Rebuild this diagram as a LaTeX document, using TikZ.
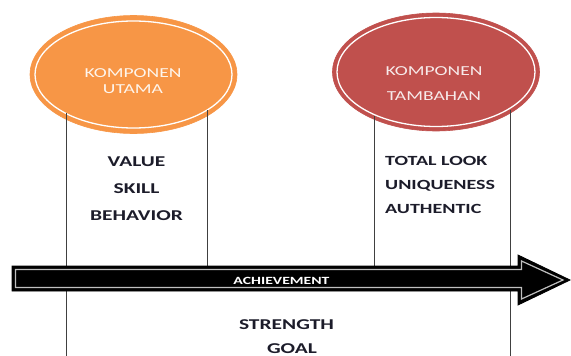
\documentclass[tikz,border=0pt]{standalone}
\usepackage{fontspec}
\setmainfont{Carlito}[FakeStretch=1.43]
\usetikzlibrary{positioning, shapes.geometric, calc}
\definecolor{utamaorange}{HTML}{F79646}
\definecolor{tambahanred}{HTML}{C0504D}
\definecolor{listtext}{HTML}{1C1C2A}
\begin{document}
\begin{tikzpicture}[x=1pt, y=-1pt,
    comp/.style={ellipse, fill=#1, draw=#1, line width=0.6pt, minimum width=207pt, minimum height=118pt, inner sep=0pt},
    comptext/.style={align=center, inner sep=0pt, text=#1, font=\fontsize{13.7}{16}\selectfont},
    items/.style={inner sep=0pt, text=listtext, font=\bfseries\fontsize{15}{27}\selectfont},
    divider/.style={draw=black!75, line width=0.8pt}
]
    \useasboundingbox (0,0) rectangle (571,356);

    % Components
    \node[comp=utamaorange] (utama) at (133.5,74.5) {};
    \node[comp=tambahanred] (tambahan) at (436,72) {};
    \draw[white, line width=1.3pt] (utama.center) ellipse [x radius=98.5pt, y radius=53.5pt];
    \draw[white, line width=1.3pt] (tambahan.center) ellipse [x radius=99pt, y radius=54.5pt];

    % Dividers
    \coordinate (utama-l) at (66,113);
    \coordinate (utama-r) at (207,110);
    \coordinate (tambahan-l) at (374,116);
    \coordinate (tambahan-r) at (510,110);
    \draw[divider] (utama-l) -- (utama-l |- 0,356);
    \draw[divider] (utama-r) -- (utama-r |- 0,266);
    \draw[divider] (tambahan-l) -- (tambahan-l |- 0,266);
    \draw[divider] (tambahan-r) -- (tambahan-r |- 0,356);

    % Achievement arrow
    \draw[fill=black, draw=black, line width=0.8pt]
        (12,266) -- (518,266) -- (518,255) -- (570,280) -- (518,305) -- (518,291) -- (12,291) -- cycle;
    \draw[draw=black!25, line width=1.2pt]
        (15.5,269.5) -- (521.5,269.5) -- (521.5,261) -- (563,280) -- (521.5,299) -- (521.5,287.5) -- (15.5,287.5) -- cycle;
    \node[inner sep=0pt, text=white, font=\bfseries\fontsize{11}{12}\selectfont] (achieve) at (281.5,280.5) {ACHIEVEMENT};

    % Texts
    \node[comptext=white!90!utamaorange] (utamatext) at (133,81) {KOMPONEN\\UTAMA};
    \node[comptext=white!88!tambahanred] (tambahantext) at (434,83.5) {KOMPONEN\\[9pt]TAMBAHAN};
    \node[items, align=center] (utamalist) at (136.5,189) {VALUE\\SKILL\\BEHAVIOR};
    \node[items, align=left, anchor=west, font=\bfseries\fontsize{14}{24}\selectfont] (tambahanlist) at (385,185) {TOTAL LOOK\\UNIQUENESS\\AUTHENTIC};
    \node[items] (strength) at (286.5,325) {STRENGTH};
    \node[items] (goal) at (292,348.5) {GOAL};
\end{tikzpicture}
\end{document}
